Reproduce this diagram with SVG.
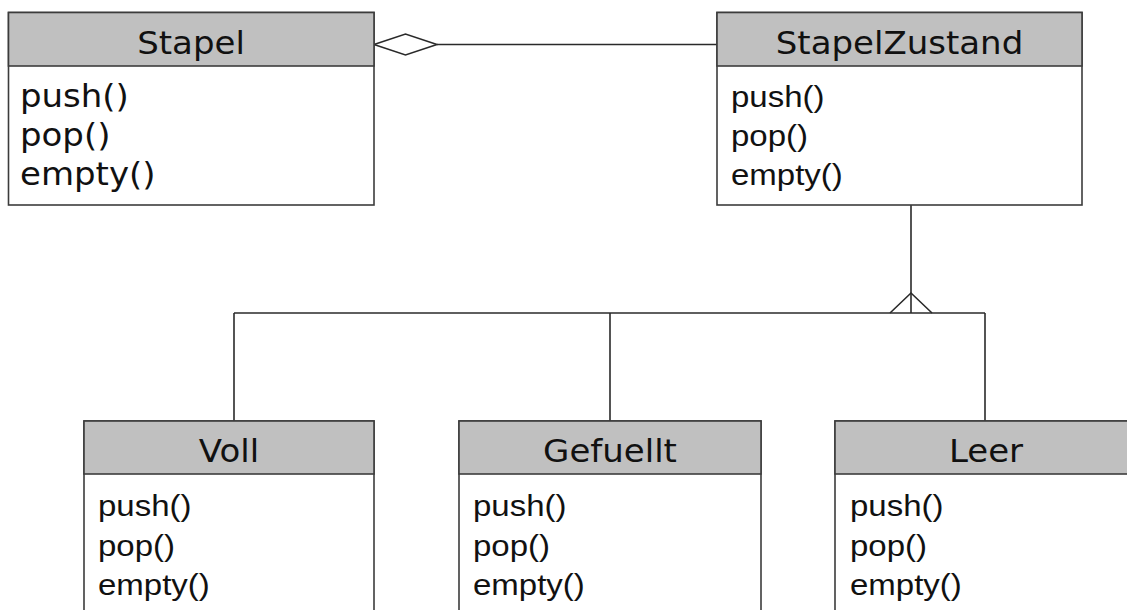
<svg xmlns="http://www.w3.org/2000/svg" width="1127" height="610" viewBox="0 0 1127 610">
  <style>
    .box { fill: #ffffff; stroke: #3c3c3c; stroke-width: 1.6; }
    .head { fill: #c0c0c0; stroke: #3c3c3c; stroke-width: 1.6; }
    .title { font-family: "DejaVu Sans", sans-serif; font-size: 34px; fill: #111; text-anchor: middle; }
    .ops { font-family: "Liberation Sans", Arial, sans-serif; font-size: 33px; fill: #111; }
    .ops-dv { font-family: "DejaVu Sans", sans-serif; font-size: 34px; fill: #111; }
    .conn { fill: none; stroke: #2a2a2a; stroke-width: 1.6; }
  </style>
  <rect width="1127" height="610" fill="#ffffff"/>

  <!-- connectors -->
  <g id="connectors">
    <!-- aggregation Stapel <>— StapelZustand -->
    <polygon class="conn" points="374,44.5 405.5,34 437,44.5 405.5,55" fill="#ffffff"/>
    <line class="conn" x1="437" y1="44.5" x2="717" y2="44.5"/>
    <!-- generalization tree -->
    <line class="conn" x1="911" y1="205" x2="911" y2="313"/>
    <polyline class="conn" points="890,313 911,293 932,313"/>
    <line class="conn" x1="234" y1="313" x2="985" y2="313"/>
    <line class="conn" x1="234" y1="313" x2="234" y2="421"/>
    <line class="conn" x1="610" y1="313" x2="610" y2="421"/>
    <line class="conn" x1="985" y1="313" x2="985" y2="421"/>
  </g>

  <!-- labels are drawn slightly condensed vertically -->
  <g id="stapel">
    <rect class="box" x="8.5" y="12.5" width="365.5" height="192.5"/>
    <rect class="head" x="8.5" y="12.5" width="365.5" height="53.5"/>
    <text class="title" transform="translate(191,53.5) scale(1,0.92)">Stapel</text>
    <text class="ops-dv" transform="translate(20,107) scale(1,0.92)">push()</text>
    <text class="ops-dv" transform="translate(20,146) scale(1,0.92)">pop()</text>
    <text class="ops-dv" transform="translate(20,185) scale(1,0.92)">empty()</text>
  </g>

  <g id="stapelzustand">
    <rect class="box" x="717" y="12.5" width="365" height="192.5"/>
    <rect class="head" x="717" y="12.5" width="365" height="53.5"/>
    <text class="title" transform="translate(899.5,53.5) scale(1,0.92)">StapelZustand</text>
    <text class="ops" transform="translate(731,107) scale(1,0.92)">push()</text>
    <text class="ops" transform="translate(731,146) scale(1,0.92)">pop()</text>
    <text class="ops" transform="translate(731,185) scale(1,0.92)">empty()</text>
  </g>

  <g id="voll">
    <rect class="box" x="84" y="421" width="290" height="200"/>
    <rect class="head" x="84" y="421" width="290" height="53"/>
    <text class="title" transform="translate(229,462) scale(1,0.92)">Voll</text>
    <text class="ops" transform="translate(98,516) scale(1,0.92)">push()</text>
    <text class="ops" transform="translate(98,556) scale(1,0.92)">pop()</text>
    <text class="ops" transform="translate(98,595) scale(1,0.92)">empty()</text>
  </g>

  <g id="gefuellt">
    <rect class="box" x="459" y="421" width="302" height="200"/>
    <rect class="head" x="459" y="421" width="302" height="53"/>
    <text class="title" transform="translate(610,462) scale(1,0.92)">Gefuellt</text>
    <text class="ops" transform="translate(473,516) scale(1,0.92)">push()</text>
    <text class="ops" transform="translate(473,556) scale(1,0.92)">pop()</text>
    <text class="ops" transform="translate(473,595) scale(1,0.92)">empty()</text>
  </g>

  <g id="leer">
    <rect class="box" x="835" y="421" width="302" height="200"/>
    <rect class="head" x="835" y="421" width="302" height="53"/>
    <text class="title" transform="translate(986,462) scale(1,0.92)">Leer</text>
    <text class="ops" transform="translate(850,516) scale(1,0.92)">push()</text>
    <text class="ops" transform="translate(850,556) scale(1,0.92)">pop()</text>
    <text class="ops" transform="translate(850,595) scale(1,0.92)">empty()</text>
  </g>
</svg>
